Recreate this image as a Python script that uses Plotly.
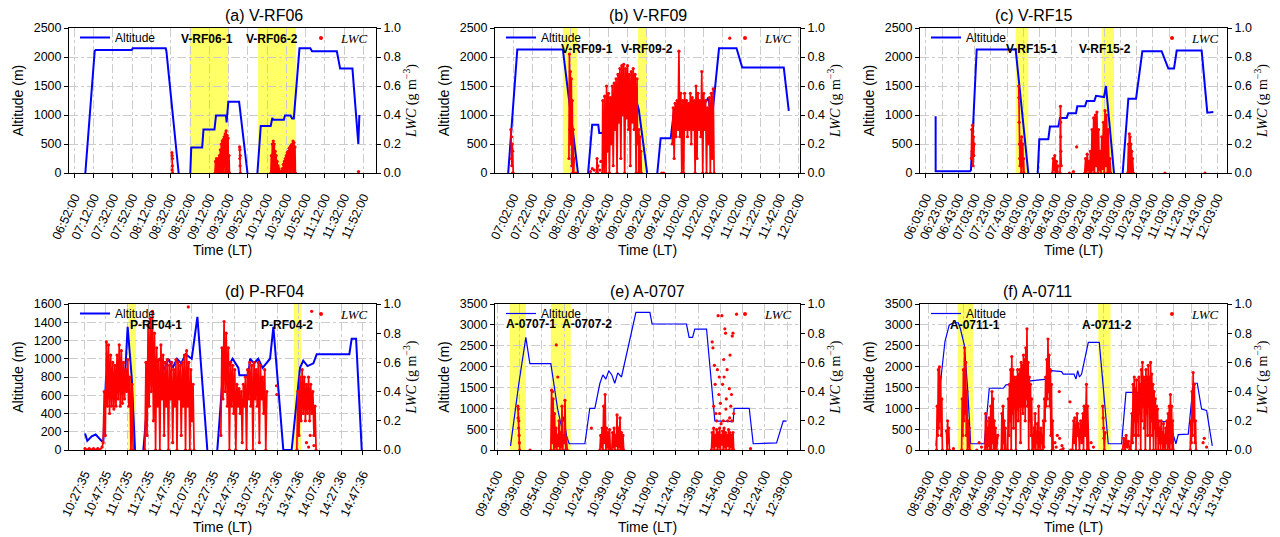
import plotly.graph_objects as go
from plotly.subplots import make_subplots

DAY = "2018-07-01 "

# ---------------- tick labels ----------------
ticks_a = ["06:52:00", "07:12:00", "07:32:00", "07:52:00", "08:12:00", "08:32:00", "08:52:00", "09:12:00",
           "09:32:00", "09:52:00", "10:12:00", "10:32:00", "10:52:00", "11:12:00", "11:32:00", "11:52:00"]
ticks_b = ["07:02:00", "07:22:00", "07:42:00", "08:02:00", "08:22:00", "08:42:00", "09:02:00", "09:22:00",
           "09:42:00", "10:02:00", "10:22:00", "10:42:00", "11:02:00", "11:22:00", "11:42:00", "12:02:00"]
ticks_c = ["06:03:00", "06:23:00", "06:43:00", "07:03:00", "07:23:00", "07:43:00", "08:03:00", "08:23:00",
           "08:43:00", "09:03:00", "09:23:00", "09:43:00", "10:03:00", "10:23:00", "10:43:00", "11:03:00",
           "11:23:00", "11:43:00", "12:03:00"]
ticks_d = ["10:27:35", "10:47:35", "11:07:35", "11:27:35", "11:47:35", "12:07:35", "12:27:35", "12:47:35",
           "13:07:35", "13:27:36", "13:47:36", "14:07:36", "14:27:36", "14:47:36"]
ticks_e = ["09:24:00", "09:39:00", "09:54:00", "10:09:00", "10:24:00", "10:39:00", "10:54:00", "11:09:00",
           "11:24:00", "11:39:00", "11:54:00", "12:09:00", "12:24:00", "12:39:00"]
ticks_f = ["08:59:00", "09:14:00", "09:29:00", "09:44:00", "09:59:00", "10:14:00", "10:29:00", "10:44:00",
           "10:59:00", "11:14:00", "11:29:00", "11:44:00", "11:59:00", "12:14:00", "12:29:00", "12:44:00",
           "12:59:00", "13:14:00"]

# ---------------- altitude (time, m) ----------------
alt_a = [("07:03:18", 0), ("07:13:00", 2100), ("07:14:00", 2120), ("07:51:30", 2120), ("07:52:30", 2150),
         ("08:26:48", 2150), ("08:27:30", 2100), ("08:40:12", 0), (None, None),
         ("08:52:18", 0), ("08:53:18", 440), ("09:04:38", 440), ("09:06:00", 750), ("09:17:24", 750),
         ("09:19:00", 990), ("09:29:24", 990), ("09:30:00", 870), ("09:31:48", 1230), ("09:43:00", 1230),
         ("09:51:42", 0), (None, None),
         ("10:02:00", 0), ("10:05:30", 810), ("10:15:48", 810), ("10:17:30", 950), ("10:18:30", 920),
         ("10:29:30", 920), ("10:30:36", 990), ("10:36:24", 990), ("10:38:00", 940), ("10:39:48", 940),
         ("10:45:42", 2150), ("10:57:00", 2150), ("10:58:42", 2100), ("11:24:30", 2100), ("11:27:54", 1800),
         ("11:40:42", 1800), ("11:46:48", 500), ("11:47:54", 1000)]
alt_b = [("06:56:42", 0), ("07:06:15", 2130), ("07:54:06", 2130), ("08:10:00", 0), (None, None),
         ("08:20:36", 0), ("08:24:54", 830), ("08:31:18", 830), ("08:32:18", 690), ("08:37:36", 690),
         ("08:40:06", 1000), ("08:50:00", 1050), ("09:00:00", 1150), ("09:08:00", 1250), ("09:12:00", 1200),
         ("09:13:48", 1100), ("09:22:36", 0), (None, None),
         ("09:33:18", 0), ("09:36:48", 600), ("09:47:24", 600), ("09:51:00", 1100), ("10:00:00", 1000),
         ("10:10:00", 1150), ("10:18:00", 1050), ("10:27:00", 1300), ("10:29:00", 1050), ("10:31:42", 1100),
         ("10:38:06", 2150), ("10:56:30", 2150), ("11:02:30", 1820), ("11:46:06", 1820), ("11:51:24", 1070)]
alt_c = [("06:14:54", 980), ("06:14:56", 30), ("06:57:18", 30), ("06:58:30", 50), ("07:05:36", 2130),
         ("07:53:42", 2130), ("08:09:18", 0), (None, None),
         ("08:20:54", 0), ("08:22:54", 580), ("08:34:00", 580), ("08:36:00", 800), ("08:46:24", 800),
         ("08:48:24", 950), ("08:56:42", 950), ("08:58:42", 1030), ("09:08:12", 1030), ("09:09:48", 1150),
         ("09:19:18", 1150), ("09:21:24", 1240), ("09:30:48", 1240), ("09:32:54", 1330), ("09:42:48", 1310),
         ("09:45:12", 1500), ("09:55:06", 0), (None, None),
         ("10:05:48", 0), ("10:12:48", 1280), ("10:22:18", 1280), ("10:30:06", 2100), ("10:53:54", 2100),
         ("11:02:12", 1800), ("11:09:12", 1800), ("11:12:30", 2110), ("11:43:18", 2110), ("11:50:18", 1040),
         ("11:57:42", 1050)]
alt_d = [("10:28:05", 180), ("10:30:11", 100), ("10:34:17", 150), ("10:38:00", 170), ("10:43:35", 100),
         ("10:45:11", 100), ("10:47:41", 800), ("10:52:00", 780), ("10:56:00", 750), ("11:00:00", 800),
         ("11:05:29", 820), ("11:07:53", 1350), ("11:11:41", 800), ("11:14:47", 0), (None, None),
         ("11:22:35", 0), ("11:30:23", 1100), ("11:34:00", 950), ("11:38:00", 1000), ("11:42:00", 880),
         ("11:46:00", 1000), ("11:50:00", 900), ("11:54:00", 1000), ("11:58:00", 950), ("12:02:00", 1050),
         ("12:07:47", 1000), ("12:13:05", 1460), ("12:22:23", 0), (None, None),
         ("12:31:41", 0), ("12:37:59", 1000), ("12:42:00", 920), ("12:46:00", 1000), ("12:51:23", 900),
         ("12:52:17", 820), ("13:00:41", 820), ("13:02:17", 1000), ("13:06:00", 950), ("13:10:00", 1000),
         ("13:14:00", 900), ("13:20:59", 1000), ("13:24:05", 1350), ("13:33:23", 0), ("13:41:11", 0),
         ("13:48:59", 900), ("13:52:00", 980), ("13:56:00", 920), ("14:01:29", 950), ("14:04:35", 1050),
         ("14:35:05", 1050), ("14:37:17", 1220), ("14:41:23", 1220), ("14:46:41", 0)]
alt_e = [("09:32:54", 100), ("09:38:30", 1600), ("09:43:12", 2700), ("09:45:54", 2070), ("10:00:00", 2070),
         ("10:04:30", 1000), ("10:07:12", 550), ("10:08:45", 800), ("10:10:30", 350), ("10:12:18", 150),
         ("10:22:54", 150), ("10:26:12", 1000), ("10:29:36", 1000), ("10:33:00", 1600), ("10:35:00", 1800),
         ("10:37:00", 1700), ("10:39:00", 1900), ("10:41:00", 1800), ("10:43:00", 1600), ("10:45:00", 1850),
         ("10:47:30", 1750), ("10:57:12", 3300), ("11:06:36", 3300), ("11:08:06", 3020), ("11:31:12", 3020),
         ("11:33:00", 2700), ("11:35:18", 2700), ("11:36:48", 2900), ("11:44:42", 2900), ("11:50:18", 700),
         ("12:02:36", 680), ("12:03:15", 1000), ("12:13:24", 1000), ("12:16:06", 150), ("12:31:48", 170),
         ("12:36:18", 700), ("12:38:30", 690)]
alt_f = [("09:05:00", 100), ("09:08:24", 1500), ("09:12:42", 2600), ("09:16:24", 3000), ("09:20:00", 3050),
         ("09:24:06", 3050), ("09:26:00", 2900), ("09:29:24", 2500), ("09:32:18", 1400), ("09:34:42", 150),
         ("09:46:24", 150), ("09:50:42", 1480), ("10:02:42", 1480), ("10:05:00", 1560), ("10:14:06", 1580),
         ("10:24:06", 1650), ("10:39:54", 1700), ("10:44:06", 1900), ("10:52:42", 1880), ("10:54:06", 1820),
         ("11:03:18", 1820), ("11:05:00", 1700), ("11:06:30", 1900), ("11:08:00", 1750), ("11:09:50", 1820),
         ("11:15:36", 2580), ("11:25:00", 2580), ("11:32:42", 150), ("11:44:06", 150), ("11:47:54", 1380),
         ("12:00:24", 1380), ("12:01:30", 1270), ("12:11:54", 1250), ("12:13:36", 680), ("12:25:00", 680),
         ("12:30:42", 150), ("12:32:42", 370), ("12:41:18", 380), ("12:45:36", 1600), ("12:49:00", 1600),
         ("12:52:42", 980), ("12:57:00", 950), ("13:01:54", 100)]

# ---------------- LWC dense records (time, g m-3); None = data gap ----------------
lwc_a = [("08:33:10", 0.14), ("08:33:20", 0.02), ("08:33:30", 0.12), ("08:33:40", 0.05), ("08:33:50", 0.1),
         ("08:34:00", 0.0), (None, None),
         ("09:18:00", 0.0), ("09:18:30", 0.08), ("09:19:00", 0.02), ("09:19:30", 0.1), ("09:20:00", 0.0),
         ("09:20:30", 0.09), ("09:21:00", 0.03), ("09:21:30", 0.1), ("09:22:00", 0.01), ("09:22:30", 0.12),
         ("09:23:00", 0.0), ("09:23:30", 0.16), ("09:24:00", 0.02), ("09:24:30", 0.2), ("09:25:00", 0.0),
         ("09:25:30", 0.22), ("09:26:00", 0.03), ("09:26:30", 0.23), ("09:27:00", 0.0), ("09:27:30", 0.25),
         ("09:28:00", 0.05), ("09:28:30", 0.27), ("09:29:00", 0.0), ("09:29:30", 0.29), ("09:30:00", 0.02),
         ("09:30:30", 0.26), ("09:31:00", 0.0), ("09:31:30", 0.24), ("09:32:00", 0.0), ("09:32:30", 0.12),
         ("09:33:00", 0.0), (None, None),
         ("09:43:30", 0.18), ("09:43:40", 0.1), ("09:43:50", 0.16), ("09:44:00", 0.05), ("09:44:10", 0.12),
         ("09:44:20", 0.0), (None, None),
         ("10:16:00", 0.0), ("10:16:30", 0.12), ("10:17:00", 0.0), ("10:17:30", 0.2), ("10:18:00", 0.02),
         ("10:18:30", 0.22), ("10:19:00", 0.0), ("10:19:30", 0.2), ("10:20:00", 0.01), ("10:20:30", 0.15),
         ("10:21:00", 0.0), ("10:21:30", 0.12), ("10:22:00", 0.0), ("10:22:30", 0.08), ("10:23:00", 0.0),
         ("10:23:30", 0.05), ("10:24:00", 0.0), ("10:24:30", 0.03), ("10:25:00", 0.0), ("10:26:00", 0.01),
         ("10:27:00", 0.0), ("10:28:00", 0.03), ("10:28:30", 0.0), ("10:29:00", 0.06), ("10:29:30", 0.0),
         ("10:30:00", 0.08), ("10:30:30", 0.01), ("10:31:00", 0.1), ("10:31:30", 0.0), ("10:32:00", 0.12),
         ("10:32:30", 0.02), ("10:33:00", 0.14), ("10:33:30", 0.0), ("10:34:00", 0.15), ("10:34:30", 0.03),
         ("10:35:00", 0.17), ("10:35:30", 0.0), ("10:36:00", 0.18), ("10:36:30", 0.02), ("10:37:00", 0.19),
         ("10:37:30", 0.0), ("10:38:00", 0.2), ("10:38:30", 0.03), ("10:39:00", 0.22), ("10:39:30", 0.0),
         ("10:40:00", 0.21), ("10:40:30", 0.02), ("10:41:00", 0.18), ("10:41:30", 0.0)]
lwc_b = [("06:59:30", 0.3), ("07:00:00", 0.1), ("07:00:15", 0.25), ("07:00:30", 0.05), ("07:01:00", 0.2),
         ("07:01:15", 0.0), ("07:01:30", 0.15), ("07:02:00", 0.0), (None, None),
         ("08:00:30", 0.1), ("08:01:00", 0.82), ("08:01:30", 0.3), ("08:02:00", 0.7), ("08:02:30", 0.2),
         ("08:03:00", 0.65), ("08:03:30", 0.05), ("08:04:00", 0.5), ("08:04:30", 0.0), ("08:05:00", 0.3),
         ("08:05:30", 0.0), ("08:06:00", 0.1), (None, None),
         ("08:29:30", 0.0), ("08:30:00", 0.1), ("08:30:30", 0.0), ("08:31:00", 0.05), (None, None),
         ("08:35:30", 0.0), ("08:36:00", 0.5), ("08:36:30", 0.05), ("08:37:00", 0.1), ("08:37:30", 0.0),
         ("08:38:00", 0.53), ("08:38:30", 0.1), ("08:39:00", 0.2), ("08:39:30", 0.0),
         ("08:40:00", 0.6), ("08:41:00", 0.15), ("08:42:00", 0.55), ("08:43:00", 0.0), ("08:44:00", 0.52),
         ("08:45:00", 0.2), ("08:46:00", 0.6), ("08:47:00", 0.05), ("08:48:00", 0.62), ("08:49:00", 0.3),
         ("08:50:00", 0.65), ("08:51:00", 0.0), ("08:52:00", 0.68), ("08:53:00", 0.35), ("08:54:00", 0.72),
         ("08:55:00", 0.1), ("08:56:00", 0.74), ("08:57:00", 0.4), ("08:58:00", 0.75), ("08:59:00", 0.0),
         ("09:00:00", 0.72), ("09:01:00", 0.38), ("09:02:00", 0.74), ("09:03:00", 0.3), ("09:04:00", 0.68),
         ("09:05:00", 0.05), ("09:06:00", 0.7), ("09:07:00", 0.35), ("09:08:00", 0.72), ("09:09:00", 0.3),
         ("09:10:00", 0.68), ("09:11:00", 0.0), ("09:12:00", 0.65), ("09:12:30", 0.2), (None, None),
         ("09:13:30", 0.0), ("09:14:00", 0.3), ("09:14:30", 0.0), ("09:15:00", 0.25), ("09:15:30", 0.05),
         ("09:16:00", 0.15), ("09:16:30", 0.0), (None, None),
         ("09:49:00", 0.2), ("09:50:00", 0.45), ("09:51:00", 0.1), ("09:52:00", 0.48), ("09:53:00", 0.25),
         ("09:54:00", 0.5), ("09:55:00", 0.3), ("09:56:00", 0.84), ("09:57:00", 0.25), ("09:58:00", 0.55),
         ("09:59:00", 0.0), ("10:00:00", 0.5), ("10:01:00", 0.0), ("10:02:00", 0.55), ("10:03:00", 0.3),
         ("10:04:00", 0.5), ("10:05:00", 0.25), ("10:06:00", 0.48), ("10:07:00", 0.3), ("10:08:00", 0.55),
         ("10:09:00", 0.2), ("10:10:00", 0.52), ("10:11:00", 0.3), ("10:12:00", 0.5), ("10:13:00", 0.0),
         ("10:14:00", 0.6), ("10:15:00", 0.1), ("10:16:00", 0.55), ("10:17:00", 0.3), ("10:18:00", 0.5),
         ("10:19:00", 0.25), ("10:20:00", 0.7), ("10:21:00", 0.0), ("10:22:00", 0.55), ("10:23:00", 0.3),
         ("10:24:00", 0.5), ("10:25:00", 0.0), ("10:26:00", 0.45), ("10:27:00", 0.2), ("10:28:00", 0.52),
         ("10:29:00", 0.0), ("10:30:00", 0.55), ("10:31:00", 0.1), ("10:32:00", 0.58), ("10:33:00", 0.0)]
lwc_c = [("06:59:00", 0.1), ("06:59:30", 0.3), ("07:00:00", 0.15), ("07:00:15", 0.2), ("07:00:30", 0.33),
         ("07:01:00", 0.05), ("07:01:30", 0.25), ("07:02:00", 0.12), ("07:02:30", 0.2), (None, None),
         ("07:57:30", 0.6), ("07:57:40", 0.52), ("07:58:00", 0.35), ("07:58:20", 0.2), ("07:58:40", 0.1),
         ("07:59:00", 0.05), ("07:59:30", 0.22), ("08:00:00", 0.15), ("08:00:30", 0.0), ("08:01:00", 0.25),
         ("08:01:30", 0.1), ("08:02:00", 0.05), ("08:02:30", 0.2), ("08:03:00", 0.0), ("08:03:30", 0.1),
         ("08:04:00", 0.0), (None, None),
         ("08:39:00", 0.0), ("08:40:00", 0.1), ("08:41:00", 0.02), ("08:42:00", 0.12), ("08:43:00", 0.0),
         ("08:44:00", 0.08), ("08:45:00", 0.01), ("08:46:00", 0.05), (None, None),
         ("08:48:30", 0.0), ("08:49:00", 0.46), ("08:49:10", 0.35), ("08:49:20", 0.25), ("08:49:30", 0.15),
         ("08:50:00", 0.05), (None, None),
         ("09:19:00", 0.0), ("09:20:00", 0.1), ("09:21:00", 0.0), ("09:22:00", 0.13), ("09:23:00", 0.02),
         ("09:24:00", 0.08), ("09:25:00", 0.0), ("09:26:00", 0.15), ("09:27:00", 0.0), ("09:28:00", 0.3),
         ("09:29:00", 0.02), ("09:30:00", 0.38), ("09:31:00", 0.0), ("09:32:00", 0.4), ("09:33:00", 0.05),
         ("09:34:00", 0.42), ("09:35:00", 0.0), ("09:36:00", 0.3), ("09:37:00", 0.02), ("09:38:00", 0.15),
         ("09:39:00", 0.0), ("09:40:00", 0.25), ("09:41:00", 0.03), ("09:42:00", 0.35), ("09:43:00", 0.0),
         ("09:44:00", 0.43), ("09:45:00", 0.05), ("09:46:00", 0.4), ("09:47:00", 0.0), ("09:48:00", 0.3),
         ("09:49:00", 0.0), ("09:50:00", 0.1), ("09:51:00", 0.0), (None, None),
         ("10:12:00", 0.0), ("10:13:00", 0.2), ("10:13:30", 0.0), ("10:14:00", 0.27), ("10:14:30", 0.02),
         ("10:15:00", 0.25), ("10:15:30", 0.0), ("10:16:00", 0.2), ("10:16:30", 0.0), ("10:17:00", 0.15),
         ("10:17:30", 0.0), ("10:18:00", 0.1), ("10:19:00", 0.0)]
lwc_d = [("10:28:00", 0.01), ("10:30:00", 0.0), ("10:32:00", 0.01), ("10:34:00", 0.0), ("10:36:00", 0.01),
         ("10:38:00", 0.0), ("10:40:00", 0.01), ("10:42:00", 0.0), ("10:44:00", 0.02),
         ("10:45:00", 0.05), ("10:46:00", 0.4), ("10:47:00", 0.1), ("10:48:00", 0.74), ("10:49:00", 0.3),
         ("10:50:00", 0.72), ("10:51:00", 0.25), ("10:52:00", 0.65), ("10:53:00", 0.3), ("10:54:00", 0.6),
         ("10:55:00", 0.28), ("10:56:00", 0.58), ("10:57:00", 0.3), ("10:58:00", 0.65), ("10:59:00", 0.35),
         ("11:00:00", 0.72), ("11:01:00", 0.3), ("11:02:00", 0.68), ("11:03:00", 0.32), ("11:04:00", 0.6),
         ("11:05:00", 0.35), ("11:06:00", 0.55), ("11:07:00", 0.4), ("11:08:00", 0.62), ("11:09:00", 0.3),
         ("11:10:00", 0.5), ("11:11:00", 0.0), ("11:12:00", 0.45), ("11:13:00", 0.0), (None, None),
         ("11:24:00", 0.0), ("11:25:00", 0.6), ("11:26:00", 0.1), ("11:27:00", 0.85), ("11:28:00", 0.3),
         ("11:29:00", 0.9), ("11:30:00", 0.4), ("11:31:00", 0.95), ("11:32:00", 0.2), ("11:33:00", 0.8),
         ("11:34:00", 0.0), ("11:35:00", 0.7), ("11:36:00", 0.3), ("11:37:00", 0.62), ("11:38:00", 0.0),
         ("11:39:00", 0.72), ("11:40:00", 0.35), ("11:41:00", 0.65), ("11:42:00", 0.1), ("11:43:00", 0.6),
         ("11:44:00", 0.3), ("11:45:00", 0.62), ("11:46:00", 0.0), ("11:47:00", 0.58), ("11:48:00", 0.35),
         ("11:49:00", 0.6), ("11:50:00", 0.05), ("11:51:00", 0.55), ("11:52:00", 0.3), ("11:53:00", 0.62),
         ("11:54:00", 0.0), ("11:55:00", 0.6), ("11:56:00", 0.35), ("11:57:00", 0.58), ("11:58:00", 0.1),
         ("11:59:00", 0.6), ("12:00:00", 0.3), ("12:01:00", 0.65), ("12:02:00", 0.0), ("12:03:00", 0.68),
         ("12:04:00", 0.3), ("12:05:00", 0.6), ("12:06:00", 0.0), ("12:07:00", 0.55), ("12:08:00", 0.2),
         ("12:09:00", 0.45), ("12:10:00", 0.0), (None, None),
         ("12:35:00", 0.1), ("12:36:00", 0.7), ("12:37:00", 0.35), ("12:38:00", 0.88), ("12:39:00", 0.4),
         ("12:40:00", 0.8), ("12:41:00", 0.3), ("12:42:00", 0.7), ("12:43:00", 0.0), ("12:44:00", 0.6),
         ("12:45:00", 0.3), ("12:46:00", 0.58), ("12:47:00", 0.25), ("12:48:00", 0.55), ("12:49:00", 0.0),
         ("12:50:00", 0.45), ("12:51:00", 0.3), ("12:52:00", 0.42), ("12:53:00", 0.25), ("12:54:00", 0.4),
         ("12:55:00", 0.05), ("12:56:00", 0.45), ("12:57:00", 0.3), ("12:58:00", 0.5), ("12:59:00", 0.0),
         ("13:00:00", 0.55), ("13:01:00", 0.35), ("13:02:00", 0.6), ("13:03:00", 0.3), ("13:04:00", 0.58),
         ("13:05:00", 0.0), ("13:06:00", 0.6), ("13:07:00", 0.35), ("13:08:00", 0.55), ("13:09:00", 0.3),
         ("13:10:00", 0.6), ("13:11:00", 0.05), ("13:12:00", 0.58), ("13:13:00", 0.35), ("13:14:00", 0.5),
         ("13:15:00", 0.25), ("13:16:00", 0.55), ("13:17:00", 0.0), ("13:18:00", 0.4), (None, None),
         ("13:46:00", 0.0), ("13:47:00", 0.4), ("13:48:00", 0.1), ("13:49:00", 0.5), ("13:50:00", 0.2),
         ("13:51:00", 0.55), ("13:52:00", 0.25), ("13:53:00", 0.5), ("13:54:00", 0.2), ("13:55:00", 0.45),
         ("13:56:00", 0.25), ("13:57:00", 0.5), ("13:58:00", 0.2), ("13:59:00", 0.45), ("14:00:00", 0.25),
         ("14:01:00", 0.4), ("14:02:00", 0.1), ("14:03:00", 0.3), ("14:04:00", 0.0)]
lwc_e = [("09:37:50", 0.3), ("09:38:00", 0.22), ("09:38:10", 0.28), ("09:38:20", 0.15), ("09:38:30", 0.2),
         ("09:38:40", 0.1), ("09:38:50", 0.05), ("09:39:00", 0.0), (None, None),
         ("10:00:00", 0.0), ("10:00:30", 0.41), ("10:01:00", 0.05), ("10:01:30", 0.35), ("10:02:00", 0.0),
         ("10:02:30", 0.25), ("10:03:00", 0.02), ("10:03:30", 0.15), ("10:04:00", 0.0), ("10:04:30", 0.1),
         ("10:05:00", 0.03), ("10:05:30", 0.2), ("10:06:00", 0.0), ("10:06:30", 0.12), ("10:07:00", 0.02),
         ("10:07:30", 0.3), ("10:08:00", 0.0), ("10:08:30", 0.1), ("10:09:00", 0.05), ("10:09:30", 0.34),
         ("10:10:00", 0.0), ("10:10:30", 0.08), ("10:11:00", 0.0), (None, None),
         ("10:33:00", 0.0), ("10:33:30", 0.1), ("10:34:00", 0.02), ("10:34:30", 0.15), ("10:35:00", 0.0),
         ("10:35:30", 0.3), ("10:36:00", 0.05), ("10:36:30", 0.38), ("10:37:00", 0.0), ("10:37:30", 0.15),
         ("10:38:00", 0.02), ("10:38:30", 0.12), ("10:39:00", 0.0), ("10:39:30", 0.14), ("10:40:00", 0.0),
         (None, None),
         ("10:41:00", 0.0), ("10:41:30", 0.12), ("10:42:00", 0.02), ("10:42:30", 0.15), ("10:43:00", 0.0),
         ("10:43:30", 0.1), ("10:44:00", 0.03), ("10:44:30", 0.24), ("10:45:00", 0.0), ("10:45:30", 0.15),
         ("10:46:00", 0.02), ("10:46:30", 0.22), ("10:47:00", 0.0), ("10:47:30", 0.12), ("10:48:00", 0.0),
         ("10:48:30", 0.1), ("10:49:00", 0.0), (None, None),
         ("11:48:00", 0.0), ("11:48:30", 0.12), ("11:49:00", 0.02), ("11:49:30", 0.15), ("11:50:00", 0.0),
         ("11:50:30", 0.1), ("11:51:00", 0.03), ("11:51:30", 0.14), ("11:52:00", 0.0), ("11:52:30", 0.12),
         ("11:53:00", 0.02), ("11:53:30", 0.15), ("11:54:00", 0.0), ("11:54:30", 0.1), ("11:55:00", 0.04),
         ("11:55:30", 0.13), ("11:56:00", 0.0), ("11:56:30", 0.15), ("11:57:00", 0.02), ("11:57:30", 0.12),
         ("11:58:00", 0.0), ("11:58:30", 0.1), ("11:59:00", 0.03), ("11:59:30", 0.14), ("12:00:00", 0.0),
         ("12:00:30", 0.12), ("12:01:00", 0.02), ("12:01:30", 0.1), ("12:02:00", 0.0), ("12:02:30", 0.12),
         ("12:03:00", 0.0)]
lwc_f = [("09:05:30", 0.0), ("09:06:00", 0.3), ("09:06:30", 0.1), ("09:07:00", 0.55), ("09:07:30", 0.15),
         ("09:08:00", 0.57), ("09:08:30", 0.2), ("09:09:00", 0.5), ("09:09:30", 0.1), ("09:10:00", 0.35),
         ("09:10:30", 0.0), (None, None),
         ("09:14:00", 0.13), ("09:14:30", 0.0), ("09:15:00", 0.2), ("09:15:30", 0.05), ("09:16:00", 0.15),
         ("09:16:30", 0.0), (None, None),
         ("09:27:00", 0.0), ("09:27:30", 0.35), ("09:28:00", 0.1), ("09:28:30", 0.55), ("09:29:00", 0.2),
         ("09:29:30", 0.7), ("09:30:00", 0.25), ("09:30:30", 0.6), ("09:31:00", 0.1), ("09:31:30", 0.4),
         ("09:32:00", 0.0), ("09:32:30", 0.2), ("09:33:00", 0.02), ("09:33:30", 0.15), ("09:34:00", 0.0),
         (None, None),
         ("09:47:00", 0.0), ("09:47:30", 0.25), ("09:48:00", 0.02), ("09:48:30", 0.2), ("09:49:00", 0.0),
         ("09:49:30", 0.15), ("09:50:00", 0.03), ("09:50:30", 0.22), ("09:51:00", 0.0), ("09:51:30", 0.1),
         ("09:52:00", 0.3), ("09:52:30", 0.0), ("09:53:00", 0.4), ("09:53:30", 0.05), ("09:54:00", 0.35),
         ("09:54:30", 0.0), ("09:55:00", 0.2), ("09:55:30", 0.0), ("09:56:00", 0.15), ("09:57:00", 0.0),
         ("09:58:00", 0.1), (None, None),
         ("10:01:00", 0.0), ("10:01:30", 0.25), ("10:02:00", 0.0), ("10:02:30", 0.3), ("10:03:00", 0.05),
         ("10:03:30", 0.2), ("10:04:00", 0.0), ("10:04:30", 0.15), ("10:05:00", 0.0), (None, None),
         ("10:06:30", 0.0), ("10:07:00", 0.35), ("10:07:30", 0.1), ("10:08:00", 0.45), ("10:08:30", 0.2),
         ("10:09:00", 0.55), ("10:09:30", 0.0), ("10:10:00", 0.64), ("10:10:30", 0.25), ("10:11:00", 0.55),
         ("10:11:30", 0.15), ("10:12:00", 0.5), ("10:12:30", 0.3), ("10:13:00", 0.48), ("10:13:30", 0.0),
         ("10:14:00", 0.5), ("10:14:30", 0.28), ("10:15:00", 0.55), ("10:15:30", 0.2), ("10:16:00", 0.52),
         ("10:16:30", 0.3), ("10:17:00", 0.55), ("10:17:30", 0.05), ("10:18:00", 0.6), ("10:18:30", 0.3),
         ("10:19:00", 0.58), ("10:19:30", 0.25), ("10:20:00", 0.65), ("10:20:30", 0.3), ("10:21:00", 0.62),
         ("10:21:30", 0.2), ("10:22:00", 0.7), ("10:22:30", 0.35), ("10:23:00", 0.83), ("10:23:30", 0.3),
         ("10:24:00", 0.6), ("10:24:30", 0.0), ("10:25:00", 0.5), ("10:25:30", 0.2), ("10:26:00", 0.45),
         ("10:26:30", 0.1), ("10:27:00", 0.35), ("10:27:30", 0.0), ("10:28:00", 0.1), ("10:28:30", 0.0),
         ("10:29:00", 0.15), ("10:29:30", 0.02), ("10:30:00", 0.25), ("10:30:30", 0.0), ("10:31:00", 0.12),
         ("10:31:30", 0.05), ("10:32:00", 0.18), ("10:32:30", 0.0), ("10:33:00", 0.3), ("10:33:30", 0.02),
         ("10:34:00", 0.12), ("10:34:30", 0.0), ("10:35:00", 0.15), ("10:35:30", 0.05), ("10:36:00", 0.1),
         ("10:36:30", 0.0), ("10:37:00", 0.2), ("10:37:30", 0.02), ("10:38:00", 0.35), ("10:38:30", 0.2),
         ("10:39:00", 0.5), ("10:39:30", 0.3), ("10:40:00", 0.62), ("10:40:30", 0.35), ("10:41:00", 0.76),
         ("10:41:30", 0.4), ("10:42:00", 0.65), ("10:42:30", 0.3), ("10:43:00", 0.55), ("10:43:30", 0.1),
         ("10:44:00", 0.45), ("10:44:30", 0.0), ("10:45:00", 0.2), ("10:45:30", 0.0), (None, None),
         ("11:02:00", 0.0), ("11:03:00", 0.2), ("11:03:30", 0.05), ("11:04:00", 0.22), ("11:05:00", 0.0),
         ("11:06:00", 0.25), ("11:06:30", 0.1), ("11:07:00", 0.18), ("11:08:00", 0.0), ("11:09:00", 0.2),
         ("11:10:00", 0.05), ("11:11:00", 0.25), ("11:11:30", 0.0), ("11:12:00", 0.3), ("11:13:00", 0.1),
         ("11:14:00", 0.45), ("11:14:30", 0.0), ("11:15:00", 0.3), ("11:16:00", 0.0), (None, None),
         ("11:28:00", 0.3), ("11:28:20", 0.22), ("11:28:40", 0.15), ("11:29:00", 0.08), ("11:29:20", 0.0),
         ("11:30:00", 0.12), (None, None),
         ("11:45:00", 0.0), ("11:46:00", 0.08), ("11:47:00", 0.0), ("11:48:00", 0.1), ("11:49:00", 0.02),
         ("11:50:00", 0.06), ("11:51:00", 0.0), (None, None),
         ("11:52:00", 0.0), ("11:53:00", 0.25), ("11:53:30", 0.05), ("11:54:00", 0.45), ("11:54:30", 0.1),
         ("11:55:00", 0.5), ("11:55:30", 0.2), ("11:56:00", 0.42), ("11:56:30", 0.0), ("11:57:00", 0.48),
         ("11:57:30", 0.2), ("11:58:00", 0.38), ("11:58:30", 0.1), ("11:59:00", 0.5), ("11:59:30", 0.25),
         ("12:00:00", 0.45), ("12:00:30", 0.0), ("12:01:00", 0.55), ("12:01:30", 0.2), ("12:02:00", 0.6),
         ("12:02:30", 0.3), ("12:03:00", 0.5), ("12:03:30", 0.15), ("12:04:00", 0.48), ("12:04:30", 0.0),
         ("12:05:00", 0.55), ("12:05:30", 0.25), ("12:06:00", 0.5), ("12:06:30", 0.1), ("12:07:00", 0.58),
         ("12:07:30", 0.3), ("12:08:00", 0.5), ("12:08:30", 0.0), ("12:09:00", 0.6), ("12:09:30", 0.2),
         ("12:10:00", 0.52), ("12:10:30", 0.1), ("12:11:00", 0.45), ("12:11:30", 0.0), ("12:12:00", 0.4),
         ("12:12:30", 0.15), ("12:13:00", 0.35), ("12:13:30", 0.0), ("12:14:00", 0.3), ("12:14:30", 0.1),
         ("12:15:00", 0.28), ("12:15:30", 0.0), ("12:16:00", 0.2), ("12:16:30", 0.05), ("12:17:00", 0.15),
         ("12:17:30", 0.0), ("12:18:00", 0.2), ("12:18:30", 0.05), ("12:19:00", 0.12), ("12:19:30", 0.0),
         ("12:20:00", 0.18), ("12:20:30", 0.02), ("12:21:00", 0.1), ("12:21:30", 0.0), ("12:22:00", 0.15),
         ("12:22:30", 0.05), ("12:23:00", 0.2), ("12:23:30", 0.0), ("12:24:00", 0.25), ("12:24:30", 0.02),
         ("12:25:00", 0.3), ("12:25:30", 0.0), ("12:26:00", 0.38), ("12:26:30", 0.05), ("12:27:00", 0.3),
         ("12:27:30", 0.0), ("12:28:00", 0.2), ("12:28:30", 0.0), (None, None),
         ("12:43:00", 0.0), ("12:43:30", 0.2), ("12:44:00", 0.05), ("12:44:30", 0.4), ("12:45:00", 0.1),
         ("12:45:30", 0.53), ("12:46:00", 0.2), ("12:46:30", 0.45), ("12:47:00", 0.05), ("12:47:30", 0.2),
         ("12:48:00", 0.0)]

# ---------------- LWC isolated records ----------------
pts_a = [("11:47:00", 0.01)]
pts_b = [("08:08:00", 0.0), ("08:23:00", 0.01), ("08:25:00", 0.03), ("08:27:00", 0.02), ("08:33:00", 0.02),
         ("08:34:00", 0.08), ("09:38:00", 0.0), ("09:40:00", 0.0), ("10:49:24", 0.93)]
pts_c = [("09:00:00", 0.0), ("09:05:00", 0.01), ("09:09:00", 0.18), ("10:58:00", 0.0), ("11:47:24", 0.0)]
pts_d = [("12:04:35", 0.98), ("13:27:00", 0.44), ("13:27:20", 0.38), ("13:55:00", 0.05), ("13:57:00", 0.02),
         ("13:58:30", 0.1), ("13:59:53", 0.95), ("14:02:00", 0.03)]
pts_e = [("09:46:00", 0.0), ("10:01:10", 0.4), ("10:03:40", 0.72), ("10:04:40", 0.5), ("10:27:18", 0.15),
         ("11:48:30", 0.74), ("11:49:00", 0.7), ("11:49:30", 0.3), ("11:50:00", 0.58), ("11:50:30", 0.45),
         ("11:51:00", 0.25), ("11:51:30", 0.2), ("11:52:00", 0.55), ("11:52:30", 0.92), ("11:53:00", 0.38),
         ("11:53:15", 0.5), ("11:53:30", 0.25), ("11:54:00", 0.32), ("11:54:30", 0.18), ("11:55:00", 0.92),
         ("11:55:30", 0.45), ("11:56:00", 0.2), ("11:56:15", 0.62), ("11:56:30", 0.5), ("11:57:00", 0.83),
         ("11:57:30", 0.8), ("11:57:45", 0.28), ("11:58:00", 0.35), ("11:58:30", 0.55), ("11:59:00", 0.2),
         ("12:00:00", 0.42), ("12:00:15", 0.22), ("12:00:30", 0.65), ("12:01:00", 0.3), ("12:01:30", 0.38),
         ("12:01:45", 0.2), ("12:02:00", 0.78), ("12:02:30", 0.8), ("12:03:00", 0.25), ("12:04:54", 0.93),
         ("12:14:18", 0.01)]
pts_f = [("09:20:00", 0.01), ("09:40:00", 0.0), ("09:42:00", 0.05), ("09:44:00", 0.02), ("10:47:00", 0.05),
         ("10:48:00", 0.02), ("10:49:00", 0.1), ("10:50:42", 0.4), ("10:51:00", 0.08), ("10:52:00", 0.0),
         ("10:53:00", 0.03), ("10:54:00", 0.01), ("10:59:54", 0.33), ("11:00:30", 0.0), ("11:18:00", 0.05),
         ("11:20:00", 0.02), ("12:54:00", 0.05), ("12:55:00", 0.08), ("12:57:00", 0.02)]

# ---------------- highlighted periods and their labels ----------------
bands_a = [("08:51:36", "09:31:48"), ("10:02:42", "10:42:12")]
bands_b = [("07:54:06", "08:09:18"), ("09:13:06", "09:22:36")]
bands_c = [("07:53:42", "08:09:18"), ("09:39:54", "09:55:06")]
bands_d = [("11:08:35", "11:15:41"), ("13:43:23", "13:49:53")]
bands_e = [("09:32:24", "09:43:12"), ("10:00:00", "10:13:24")]
bands_f = [("09:23:36", "09:37:00"), ("11:24:06", "11:34:42")]

labels_a = [("V-RF06-1", "09:09:18", 2316), ("V-RF06-2", "10:16:48", 2316)]
labels_b = [("V-RF09-1", "08:19:36", 2138), ("V-RF09-2", "09:22:18", 2138)]
labels_c = [("V-RF15-1", "08:13:54", 2138), ("V-RF15-2", "09:44:00", 2138)]
labels_d = [("P-RF04-1", "11:34:23", 1373), ("P-RF04-2", "13:36:35", 1373)]
labels_e = [("A-0707-1", "09:46:48", 3018), ("A-0707-2", "10:24:24", 3018)]
labels_f = [("A-0711-1", "09:38:24", 3002), ("A-0711-2", "11:31:18", 3002)]

titles = ["(a) V-RF06", "(b) V-RF09", "(c) V-RF15", "(d) P-RF04", "(e) A-0707", "(f) A-0711"]

# ---------------- layout helpers ----------------
W, H = 1280, 537
SANS = "Liberation Sans, Arial, sans-serif"
SERIF = "Liberation Serif, Times New Roman, serif"
COLS = [(69, 376), (495, 800), (920, 1227)]
ROWS = [(28, 173), (304, 450)]


def ts(s):
    if s is None:
        return None
    return DAY + (s if len(s) == 8 else s + ":00")


def split(pairs):
    return [ts(t) for t, _ in pairs], [v for _, v in pairs]


panels = [
    dict(alt=alt_a, lwc=lwc_a, pts=pts_a, bands=bands_a, labels=labels_a, ticks=ticks_a,
         xr=("06:46:20", "12:05:10"), ymax=2500, ydt=500, lw=2),
    dict(alt=alt_b, lwc=lwc_b, pts=pts_b, bands=bands_b, labels=labels_b, ticks=ticks_b,
         xr=("06:42:50", "12:03:10"), ymax=2500, ydt=500, lw=2),
    dict(alt=alt_c, lwc=lwc_c, pts=pts_c, bands=bands_c, labels=labels_c, ticks=ticks_c,
         xr=("05:55:36", "12:14:36"), ymax=2500, ydt=500, lw=2),
    dict(alt=alt_d, lwc=lwc_d, pts=pts_d, bands=bands_d, labels=labels_d, ticks=ticks_d,
         xr=("10:13:05", "15:00:00"), ymax=1600, ydt=200, lw=2),
    dict(alt=alt_e, lwc=lwc_e, pts=pts_e, bands=bands_e, labels=labels_e, ticks=ticks_e,
         xr=("09:22:27", "12:47:33"), ymax=3500, ydt=500, lw=1.2),
    dict(alt=alt_f, lwc=lwc_f, pts=pts_f, bands=bands_f, labels=labels_f, ticks=ticks_f,
         xr=("08:51:18", "13:14:30"), ymax=3500, ydt=500, lw=1.2),
]

fig = make_subplots(rows=2, cols=3, specs=[[{"secondary_y": True}] * 3 for _ in range(2)])

TICKFONT = dict(family=SANS, size=12.5, color="black")
GRID = dict(showgrid=True, gridcolor="#cccccc", griddash="dashdot", gridwidth=1)
AXLINE = dict(showline=True, linecolor="black", linewidth=1, ticks="outside", ticklen=4,
              tickcolor="black", zeroline=False, automargin=False)

legends = {}
for i, p in enumerate(panels):
    r, c = i // 3 + 1, i % 3 + 1
    k = i + 1
    xname = "x" if k == 1 else f"x{k}"
    xaxis = "xaxis" if k == 1 else f"xaxis{k}"
    yp, ys = 2 * k - 1, 2 * k
    ypname = "y" if yp == 1 else f"y{yp}"
    ypaxis = "yaxis" if yp == 1 else f"yaxis{yp}"
    ysaxis = f"yaxis{ys}"
    leg_a = "legend" if yp == 1 else f"legend{yp}"
    leg_b = f"legend{ys}"
    x0, x1 = COLS[c - 1]
    y0, y1 = ROWS[r - 1]

    at, av = split(p["alt"])
    fig.add_trace(go.Scatter(x=at, y=av, mode="lines", name="Altitude", legend=leg_a,
                             line=dict(color="#0000ff", width=p["lw"]), connectgaps=False,
                             hoverinfo="skip"),
                  row=r, col=c, secondary_y=False)
    lt, lv = split(p["lwc"])
    fig.add_trace(go.Scatter(x=lt, y=lv, mode="lines+markers", showlegend=False,
                             line=dict(color="#ff0000", width=1.7),
                             marker=dict(color="#ff0000", size=3.2), connectgaps=False,
                             hoverinfo="skip"),
                  row=r, col=c, secondary_y=True)
    pt, pv = split(p["pts"])
    fig.add_trace(go.Scatter(x=pt, y=pv, mode="markers", showlegend=False,
                             marker=dict(color="#ff0000", size=3.2), hoverinfo="skip"),
                  row=r, col=c, secondary_y=True)
    fig.add_trace(go.Scatter(x=[None], y=[None], mode="markers", name="<i>LWC</i>", legend=leg_b,
                             marker=dict(color="#ff0000", size=4)),
                  row=r, col=c, secondary_y=True)

    for b0, b1 in p["bands"]:
        fig.add_shape(type="rect", xref=xname, yref=f"{ypname} domain", x0=ts(b0), x1=ts(b1),
                      y0=0, y1=1, fillcolor="#ffff66", line=dict(width=0), layer="below")
    for txt, t, yv in p["labels"]:
        fig.add_annotation(x=ts(t), y=yv, xref=xname, yref=ypname, text=f"<b>{txt}</b>",
                           showarrow=False, font=dict(family=SANS, size=12, color="black"))
    fig.add_annotation(x=(x0 + x1) / 2 / W, y=1 - (y0 - 13) / H, xref="paper", yref="paper",
                       text=titles[i], showarrow=False, yanchor="middle",
                       font=dict(family=SANS, size=16, color="black"))

    fig.layout[xaxis].update(
        domain=[x0 / W, x1 / W], type="date", range=[ts(p["xr"][0]), ts(p["xr"][1])],
        tickmode="array", tickvals=[ts(t) for t in p["ticks"]], ticktext=p["ticks"],
        tickangle=-65, tickfont=TICKFONT, mirror=True, ticklabelstandoff=7,
        title=dict(text="Time (LT)", font=dict(family=SANS, size=14, color="black"), standoff=2),
        **GRID, **AXLINE)
    fig.layout[ypaxis].update(
        domain=[1 - y1 / H, 1 - y0 / H], range=[0, p["ymax"]], dtick=p["ydt"], tick0=0,
        tickfont=TICKFONT, mirror=False,
        title=dict(text="Altitude (m)", font=dict(family=SANS, size=14, color="black"), standoff=6),
        **GRID, **AXLINE)
    fig.layout[ysaxis].update(
        range=[0, 1], dtick=0.2, tick0=0, tickformat=".1f", tickfont=TICKFONT, showgrid=False,
        title=dict(text="<i>LWC</i> (g m<sup>\u22123</sup>)",
                   font=dict(family=SERIF, size=14, color="black"), standoff=6),
        **AXLINE)

    legends[leg_a] = dict(x=(x0 + 6) / W, y=1 - (y0 - 5) / H, xanchor="left", yanchor="top",
                          bgcolor="rgba(0,0,0,0)", borderwidth=0,
                          font=dict(family=SANS, size=12, color="black"))
    legends[leg_b] = dict(x=(x1 - 2) / W, y=1 - (y0 - 5) / H, xanchor="right", yanchor="top",
                          bgcolor="rgba(0,0,0,0)", borderwidth=0,
                          font=dict(family=SERIF, size=13, color="black"))

fig.update_layout(
    width=W, height=H, margin=dict(l=0, r=0, t=0, b=0),
    paper_bgcolor="white", plot_bgcolor="white",
    font=dict(family=SANS, color="black"),
    showlegend=True, **legends)

fig.write_html("out.html")
